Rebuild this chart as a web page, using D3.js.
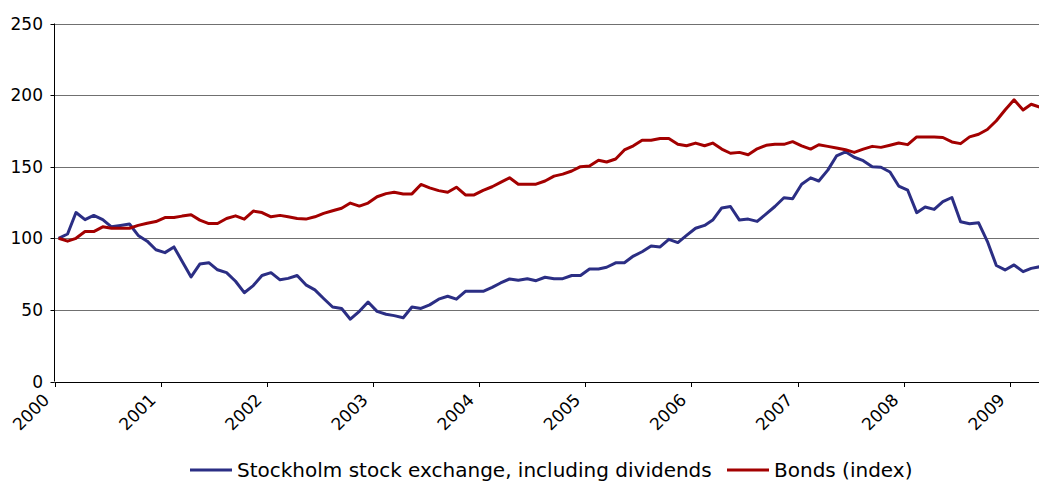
<!DOCTYPE html>
<head>
  <meta charset="utf-8">
  <title>Stocks vs bonds</title>
  <script src="https://d3js.org/d3.v7.min.js"></script>
  <style>
    body { margin: 0; background: #fff; }
    text { font-family: "DejaVu Sans", Verdana, sans-serif; fill: #000; }
  </style>
</head>
<body>
  <svg width="1039" height="483"></svg>

  <script>
  // monthly index values, Jan 2000 = 100
  var stock = [100,103,118,113,116,113,108,109,110,102,98,92,
    90,94,84,73,82,83,78,76,70,62,67,74,
    76,71,72,74,67.5,64,58,52,51,43.5,49,55.5,
    49,47,46,44.5,52,51,53.5,57.5,59.5,57.5,63,63,
    63,65.7,68.8,71.6,70.7,71.8,70.4,72.8,71.8,71.8,74,74,
    78.6,78.6,79.8,82.9,82.9,87.6,90.6,94.6,94,99.3,97,102,
    107,109,112.7,121.2,122.2,112.7,113.4,111.8,117,122.2,128.3,127.6,
    137.7,142.2,140,147.6,157.5,160.4,156.6,154.2,150,149.6,146.3,136.5,
    133.6,117.9,121.9,120.2,125.6,128.5,111.5,110.1,110.8,97.9,81,77.9,
    81.4,76.7,79,80.2];
  var bonds = [100,98,100,104.7,104.7,108,107,107,107,109,110.5,111.7,
    114.5,114.5,115.5,116.4,112.7,110.3,110.3,113.8,115.7,113.4,119,118,
    115,116,115,113.8,113.4,115,117.4,119.2,121,124.6,122.5,124.6,
    129,131.2,132.2,131,131,137.6,135.2,133.3,132.2,135.7,130.3,130.3,
    133.5,136,139,142.3,137.8,137.8,137.8,140,143.4,144.8,147,150,
    150.5,154.5,153.3,155.4,161.7,164.6,168.5,168.5,169.7,169.7,165.7,164.6,
    166.5,164.6,166.5,162.3,159.4,160,158.3,162.5,164.9,165.6,165.6,167.5,
    164.6,162.3,165.3,164.2,163,161.8,160,162.3,164.2,163.5,165,166.5,
    165.4,170.8,170.8,170.8,170.4,167.3,166.1,170.8,172.7,176,182.1,189.6,
    196.7,189.6,193.6,191.5];
  var years = [2000,2001,2002,2003,2004,2005,2006,2007,2008,2009];
  var yTicks = [0,50,100,150,200,250];
  var seriesNames = ["Stockholm stock exchange, including dividends", "Bonds (index)"];
  var seriesColors = ["#2b2e84", "#a30000"];

  var svg = d3.select("svg"),
      width = +svg.attr("width"),
      height = +svg.attr("height");

  var plotLeft = 54.5, plotBottom = 381.5, plotTop = 23.5;

  var x = d3.scaleTime()
      .domain([new Date(2000, 0, 1), new Date(2009, 0, 1)])
      .range([plotLeft, 1010]);
  var y = d3.scaleLinear()
      .domain([0, 250])
      .range([plotBottom, plotTop]);

  var dates = d3.range(stock.length).map(function(i) { return new Date(2000, i, 15); });

  // gridlines
  svg.append("g")
    .selectAll("line")
    .data(yTicks.filter(function(d) { return d > 0; }))
    .enter().append("line")
      .attr("x1", plotLeft).attr("x2", width)
      .attr("y1", function(d) { return Math.round(y(d)) + 0.5; })
      .attr("y2", function(d) { return Math.round(y(d)) + 0.5; })
      .attr("stroke", "#707070")
      .attr("stroke-width", 1);

  // y axis
  var gy = svg.append("g");
  gy.append("line")
    .attr("x1", plotLeft).attr("x2", plotLeft)
    .attr("y1", y(250)).attr("y2", y(0))
    .attr("stroke", "#000");
  gy.selectAll("line.tick")
    .data(yTicks)
    .enter().append("line")
      .attr("class", "tick")
      .attr("x1", plotLeft - 4).attr("x2", plotLeft)
      .attr("y1", function(d) { return Math.round(y(d)) + 0.5; })
      .attr("y2", function(d) { return Math.round(y(d)) + 0.5; })
      .attr("stroke", "#000");
  gy.selectAll("text")
    .data(yTicks)
    .enter().append("text")
      .attr("x", 43)
      .attr("y", function(d) { return y(d); })
      .attr("dy", "0.36em")
      .attr("text-anchor", "end")
      .attr("font-size", 17)
      .text(function(d) { return d; });

  // x axis
  var gx = svg.append("g");
  gx.append("line")
    .attr("x1", plotLeft).attr("x2", width)
    .attr("y1", Math.round(y(0)) + 0.5).attr("y2", Math.round(y(0)) + 0.5)
    .attr("stroke", "#000");
  gx.selectAll("line.tick")
    .data(years)
    .enter().append("line")
      .attr("class", "tick")
      .attr("x1", function(d) { return Math.round(x(new Date(d, 0, 1))) + 0.5; })
      .attr("x2", function(d) { return Math.round(x(new Date(d, 0, 1))) + 0.5; })
      .attr("y1", Math.round(y(0))).attr("y2", Math.round(y(0)) + 5)
      .attr("stroke", "#000");
  gx.selectAll("text")
    .data(years)
    .enter().append("text")
      .attr("text-anchor", "end")
      .attr("font-size", 17)
      .attr("transform", function(d) {
        return "translate(" + (x(new Date(d, 0, 1)) - 4) + ",401) rotate(-45)";
      })
      .text(function(d) { return d; });

  // lines
  var line = d3.line()
      .x(function(d, i) { return x(dates[i]); })
      .y(function(d) { return y(d); });

  svg.selectAll("path.series")
    .data([stock, bonds])
    .enter().append("path")
      .attr("class", "series")
      .attr("fill", "none")
      .attr("stroke", function(d, i) { return seriesColors[i]; })
      .attr("stroke-width", 3)
      .attr("stroke-linejoin", "round")
      .attr("d", line);

  // legend
  var legX = [190, 727];
  var legend = svg.selectAll("g.legend")
    .data(seriesNames)
    .enter().append("g")
      .attr("class", "legend")
      .attr("transform", function(d, i) { return "translate(" + legX[i] + ",470)"; });
  legend.append("line")
    .attr("x1", 0).attr("x2", 42)
    .attr("stroke", function(d, i) { return seriesColors[i]; })
    .attr("stroke-width", 3);
  legend.append("text")
    .attr("x", 47)
    .attr("dy", "0.36em")
    .attr("font-size", 20)
    .text(function(d) { return d; });
  </script>
</body>
